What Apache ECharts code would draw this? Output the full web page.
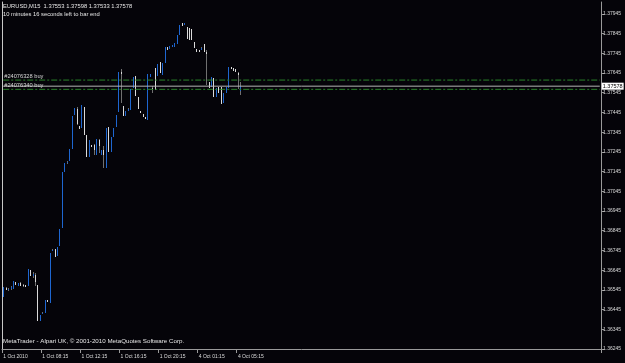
<!DOCTYPE html>
<html>
<head>
<meta charset="utf-8">
<script src="https://cdn.jsdelivr.net/npm/echarts@6/dist/echarts.min.js"></script>
<style>
	html, body { margin: 0; background: #050409; }
	#chart { width: 625px; height: 363px; }
</style>
</head>
<body>
<div id="chart"></div>
<script>
// EURUSD M15 bars, 1 Oct 2010 04:15 .. 4 Oct 05:30
const open = [
	1.36508, 1.36553, 1.36543, 1.36548, 1.36548, 1.36583, 1.36563, 1.36578, 1.36568, 1.36568,
	1.36563, 1.36644, 1.36614, 1.36619, 1.36568, 1.36386, 1.36422, 1.36427, 1.36492, 1.36477,
	1.36740, 1.36750, 1.36715, 1.36765, 1.36861, 1.37144, 1.37189, 1.37200, 1.37260, 1.37432,
	1.37462, 1.37376, 1.37366, 1.37472, 1.37331, 1.37220, 1.37280, 1.37280, 1.37230, 1.37306,
	1.37230, 1.37255, 1.37164, 1.37371, 1.37245, 1.37321, 1.37371, 1.37447, 1.37649, 1.37477,
	1.37427, 1.37452, 1.37457, 1.37568, 1.37629, 1.37523, 1.37452, 1.37437, 1.37422, 1.37407,
	1.37624, 1.37568, 1.37669, 1.37629, 1.37699, 1.37634, 1.37694, 1.37775, 1.37765, 1.37775,
	1.37775, 1.37790, 1.37836, 1.37896, 1.37886, 1.37876, 1.37871, 1.37866, 1.37800, 1.37765,
	1.37760, 1.37760, 1.37790, 1.37750, 1.37598, 1.37573, 1.37619, 1.37523, 1.37573, 1.37573,
	1.37492, 1.37543, 1.37568, 1.37674, 1.37669, 1.37664, 1.37644, 1.37553,
]
const high = [
	1.36558, 1.36558, 1.36553, 1.36563, 1.36588, 1.36583, 1.36578, 1.36583, 1.36573, 1.36568,
	1.36649, 1.36644, 1.36634, 1.36629, 1.36568, 1.36417, 1.36432, 1.36492, 1.36492, 1.36730,
	1.36750, 1.36750, 1.36760, 1.36856, 1.37144, 1.37189, 1.37200, 1.37260, 1.37427, 1.37467,
	1.37472, 1.37376, 1.37482, 1.37472, 1.37331, 1.37306, 1.37280, 1.37285, 1.37311, 1.37311,
	1.37255, 1.37275, 1.37366, 1.37371, 1.37321, 1.37366, 1.37432, 1.37649, 1.37664, 1.37477,
	1.37452, 1.37467, 1.37563, 1.37624, 1.37629, 1.37523, 1.37452, 1.37437, 1.37422, 1.37639,
	1.37639, 1.37578, 1.37669, 1.37689, 1.37699, 1.37694, 1.37775, 1.37775, 1.37780, 1.37785,
	1.37795, 1.37836, 1.37886, 1.37896, 1.37901, 1.37876, 1.37871, 1.37866, 1.37800, 1.37765,
	1.37760, 1.37775, 1.37790, 1.37760, 1.37598, 1.37624, 1.37619, 1.37568, 1.37573, 1.37573,
	1.37543, 1.37573, 1.37674, 1.37674, 1.37669, 1.37664, 1.37649, 1.37598,
]
const low = [
	1.36508, 1.36543, 1.36538, 1.36543, 1.36548, 1.36568, 1.36563, 1.36563, 1.36558, 1.36558,
	1.36563, 1.36614, 1.36604, 1.36563, 1.36386, 1.36386, 1.36422, 1.36427, 1.36482, 1.36477,
	1.36740, 1.36710, 1.36715, 1.36765, 1.36861, 1.37144, 1.37184, 1.37200, 1.37260, 1.37432,
	1.37381, 1.37361, 1.37366, 1.37331, 1.37220, 1.37220, 1.37270, 1.37230, 1.37230, 1.37240,
	1.37230, 1.37164, 1.37164, 1.37245, 1.37245, 1.37321, 1.37371, 1.37447, 1.37492, 1.37427,
	1.37427, 1.37452, 1.37457, 1.37568, 1.37528, 1.37462, 1.37442, 1.37422, 1.37412, 1.37407,
	1.37624, 1.37543, 1.37558, 1.37629, 1.37644, 1.37634, 1.37694, 1.37760, 1.37765, 1.37775,
	1.37775, 1.37790, 1.37836, 1.37881, 1.37886, 1.37816, 1.37811, 1.37811, 1.37770, 1.37750,
	1.37750, 1.37760, 1.37750, 1.37583, 1.37568, 1.37573, 1.37523, 1.37523, 1.37543, 1.37487,
	1.37492, 1.37543, 1.37568, 1.37664, 1.37654, 1.37649, 1.37563, 1.37533,
]
const close = [
	1.36558, 1.36543, 1.36548, 1.36558, 1.36588, 1.36568, 1.36578, 1.36563, 1.36563, 1.36558,
	1.36649, 1.36614, 1.36624, 1.36583, 1.36386, 1.36417, 1.36427, 1.36492, 1.36482, 1.36730,
	1.36745, 1.36710, 1.36760, 1.36856, 1.37144, 1.37189, 1.37195, 1.37260, 1.37427, 1.37467,
	1.37386, 1.37361, 1.37482, 1.37331, 1.37220, 1.37306, 1.37270, 1.37255, 1.37311, 1.37275,
	1.37255, 1.37230, 1.37366, 1.37245, 1.37321, 1.37366, 1.37432, 1.37649, 1.37639, 1.37427,
	1.37452, 1.37462, 1.37563, 1.37624, 1.37528, 1.37462, 1.37442, 1.37422, 1.37412, 1.37639,
	1.37639, 1.37563, 1.37558, 1.37689, 1.37644, 1.37694, 1.37775, 1.37760, 1.37780, 1.37785,
	1.37795, 1.37836, 1.37886, 1.37881, 1.37901, 1.37816, 1.37811, 1.37811, 1.37770, 1.37750,
	1.37750, 1.37770, 1.37750, 1.37740, 1.37568, 1.37624, 1.37523, 1.37568, 1.37543, 1.37487,
	1.37543, 1.37573, 1.37674, 1.37664, 1.37654, 1.37649, 1.37634, 1.37578,
]

// time scale labels, one every 16 bars
const tickLabels = ['1 Oct 2010', '1 Oct 08:15', '1 Oct 12:15', '1 Oct 16:15', '1 Oct 20:15', '4 Oct 01:15', '4 Oct 05:15']
const tickStep = 16
const slotCount = 245

// open orders
const orderNames = ['#24076328 buy', '#24076340 buy']
const orderPrices = [1.37609, 1.37562]

const FONT = '"Liberation Sans", Arial, sans-serif'

chart = () => {
	var chartMain = echarts.init(document.getElementById('chart'))

	const last = open.length - 1
	const header = `EURUSD,M15  ${open[last].toFixed(5)} ${high[last].toFixed(5)} ${low[last].toFixed(5)} ${close[last].toFixed(5)}`
	const bars = open.map((o, i) => [i, o, high[i], low[i], close[i]])
	const slots = Array.from({ length: slotCount }, (_, i) => i)
	const lastSlot = slotCount - 1
	const isTick = (i) => i % tickStep === 0 && i / tickStep < tickLabels.length

	// 1px wide candle: grey shadow, blue/white body
	const renderCandle = (params, api) => {
		const i = api.value(0)
		const o = api.value(1)
		const c = api.value(4)
		const x = Math.round(api.coord([i, o])[0])
		const yh = Math.round(api.coord([i, api.value(2)])[1])
		const yl = Math.round(api.coord([i, api.value(3)])[1])
		const yo = api.coord([i, o])[1]
		const yc = api.coord([i, c])[1]
		const top = Math.round(Math.min(yo, yc))
		const bottom = Math.round(Math.max(yo, yc))
		return {
			type: 'group',
			children: [
				{ type: 'rect', shape: { x: x, y: yh, width: 1, height: Math.max(1, yl - yh) }, style: { fill: '#707070' } },
				{ type: 'rect', shape: { x: x, y: top, width: 1, height: Math.max(1, bottom - top) }, style: { fill: c >= o ? '#1e66d0' : '#dadada' } },
			],
		}
	}

	// horizontal order levels, label above the line at the left
	const orderSeries = orderNames.map((name, k) => ({
		type: 'line',
		silent: true,
		symbol: 'circle',
		symbolSize: 0,
		showSymbol: true,
		lineStyle: { color: '#2a842a', width: 1, type: [6, 2, 2, 2] },
		data: [
			{
				value: [0, orderPrices[k]],
				label: { show: true, position: 'right', distance: 1, offset: [0, -4], formatter: name, color: '#d8d8d8', fontSize: 5.7, fontFamily: FONT },
			},
			[lastSlot, orderPrices[k]],
		],
		z: 3,
	}))

	// bid line with price tag on the scale
	const bidSeries = {
		type: 'line',
		silent: true,
		symbol: 'circle',
		symbolSize: 0,
		showSymbol: true,
		lineStyle: { color: '#b4b4b4', width: 1 },
		data: [
			[0, close[last]],
			{
				value: [lastSlot, close[last]],
				label: {
					show: true,
					position: 'right',
					distance: 2,
					formatter: close[last].toFixed(5),
					color: '#000',
					backgroundColor: '#fff',
					padding: [1, 1, 0, 1],
					fontSize: 5.5,
					fontFamily: FONT,
				},
			},
		],
		z: 3,
	}

	const option = {
		backgroundColor: '#050409',
		animation: false,
		title: [
			{
				text: header,
				subtext: '10 minutes 16 seconds left to bar end',
				left: 3,
				top: 3,
				padding: 0,
				itemGap: 2,
				textStyle: { color: '#e6e6e6', fontSize: 5.8, fontWeight: 'normal', fontFamily: FONT },
				subtextStyle: { color: '#e6e6e6', fontSize: 5.8, fontFamily: FONT },
			},
			{
				text: 'MetaTrader - Alpari UK, © 2001-2010 MetaQuotes Software Corp.',
				left: 3,
				top: 338,
				padding: 0,
				textStyle: { color: '#e6e6e6', fontSize: 6.2, fontWeight: 'normal', fontFamily: FONT },
			},
		],
		grid: { left: 2, right: 24, top: 2, bottom: 14 },
		xAxis: {
			type: 'category',
			data: slots,
			boundaryGap: true,
			axisLine: { lineStyle: { color: '#9a9a9a', width: 1 } },
			axisTick: { show: true, length: 4, interval: isTick, lineStyle: { color: '#9a9a9a' } },
			axisLabel: {
				interval: isTick,
				formatter: (v, i) => tickLabels[i / tickStep] || '',
				align: 'left',
				margin: 5,
				color: '#dcdcdc',
				fontSize: 5,
				fontFamily: FONT,
			},
			splitLine: { show: false },
		},
		yAxis: [
			{
				type: 'value',
				position: 'right',
				min: 1.36245,
				max: 1.38005,
				interval: 0.001,
				axisLine: { show: true, lineStyle: { color: '#9a9a9a', width: 1 } },
				axisTick: { show: true, length: 3, lineStyle: { color: '#9a9a9a' } },
				axisLabel: {
					showMaxLabel: false,
					formatter: (v) => v.toFixed(5),
					margin: 2,
					color: '#dcdcdc',
					fontSize: 5,
					fontFamily: FONT,
				},
				splitLine: { show: false },
			},
			{
				type: 'value',
				position: 'left',
				min: 1.36245,
				max: 1.38005,
				axisLine: { show: true, lineStyle: { color: '#c8c8c8', width: 1 } },
				axisTick: { show: false },
				axisLabel: { show: false },
				splitLine: { show: false },
			},
		],
		series: [
			{
				type: 'custom',
				renderItem: renderCandle,
				encode: { x: 0, y: [1, 2, 3, 4] },
				data: bars,
				clip: true,
				z: 2,
			},
			...orderSeries,
			bidSeries,
		],
	}

	chartMain.setOption(option)
}

chart()
</script>
</body>
</html>
